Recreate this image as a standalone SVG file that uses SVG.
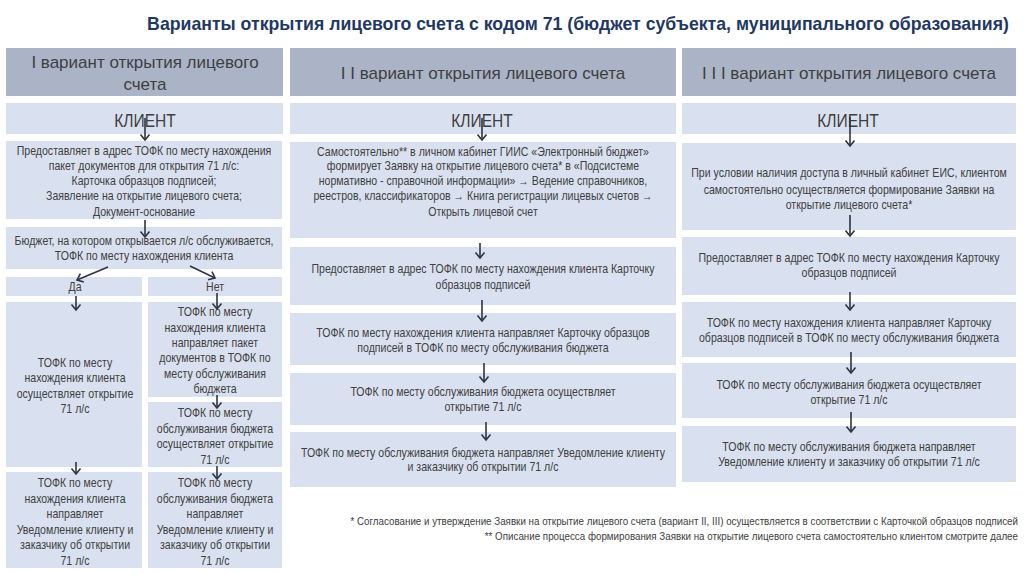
<svg xmlns="http://www.w3.org/2000/svg" width="1024" height="574" viewBox="0 0 1024 574">
<style>
.bg{fill:#ffffff}
.hd{fill:#aab4c6}
.lt{fill:#d9e1f0}
.title{font-family:"Liberation Sans",Arial,sans-serif;font-weight:bold;font-size:17.7px;fill:#1f3864;text-anchor:middle}
.ht{font-family:"Liberation Sans",Arial,sans-serif;font-size:17px;fill:#3f3f3f;text-anchor:middle}
.kl{font-family:"Liberation Sans",Arial,sans-serif;font-size:19px;fill:#3f3f3f;text-anchor:middle}
.t{font-family:"Liberation Sans",Arial,sans-serif;font-size:12px;fill:#404040;text-anchor:middle}
.fn{font-family:"Liberation Sans",Arial,sans-serif;font-size:11px;fill:#404040;text-anchor:end}
.ar{stroke:#2e3540;stroke-width:1.6;fill:none;marker-end:url(#ah)}
</style>
<defs>
<marker id="ah" markerUnits="userSpaceOnUse" markerWidth="14" markerHeight="14" viewBox="-7 -7 14 14" refX="0" refY="0" orient="auto" overflow="visible">
<path d="M-5.5,-4.5 L0,0 L-5.5,4.5" fill="none" stroke="#2e3540" stroke-width="1.6"/>
</marker>
</defs>
<rect class="bg" x="0" y="0" width="1024" height="574"/>
<text class="title" x="578" y="30">Варианты открытия лицевого счета с кодом 71 (бюджет субъекта, муниципального образования)</text>

<g id="header1"><rect class="hd" x="6" y="48" width="277" height="48"/>
<text class="ht"><tspan x="145" y="68">I вариант открытия лицевого</tspan><tspan x="145" y="90">счета</tspan></text></g>
<g id="header2"><rect class="hd" x="290" y="48" width="386" height="48"/>
<text class="ht" x="483" y="79">I I вариант открытия лицевого счета</text></g>
<g id="header3"><rect class="hd" x="682" y="48" width="334" height="48"/>
<text class="ht" x="849" y="79">I I I вариант открытия лицевого счета</text></g>

<g id="client1"><rect class="lt" x="6" y="103" width="277" height="31"/>
<text class="kl" transform="translate(145,0) scale(0.82,1)" x="0" y="127">КЛИЕНТ</text></g>
<g id="client2"><rect class="lt" x="290" y="103" width="386" height="31"/>
<text class="kl" transform="translate(482,0) scale(0.82,1)" x="0" y="127">КЛИЕНТ</text></g>
<g id="client3"><rect class="lt" x="682" y="103" width="334" height="31"/>
<text class="kl" transform="translate(848,0) scale(0.82,1)" x="0" y="127">КЛИЕНТ</text></g>

<!-- Variant I -->
<g id="v1-docs"><rect class="lt" x="6" y="141" width="276" height="78"/>
<text class="t" transform="translate(144,0) scale(0.88,1)"><tspan x="0" y="155">Предоставляет в адрес ТОФК по месту нахождения</tspan><tspan x="0" y="170">пакет документов для открытия 71 л/с:</tspan><tspan x="0" y="185">Карточка образцов подписей;</tspan><tspan x="0" y="200.5">Заявление на открытие лицевого счета;</tspan><tspan x="0" y="216">Документ-основание</tspan></text></g>
<g id="v1-budget"><rect class="lt" x="6" y="227" width="276" height="42"/>
<text class="t" transform="translate(144,0) scale(0.88,1)"><tspan x="0" y="245">Бюджет, на котором открывается л/с обслуживается,</tspan><tspan x="0" y="260">ТОФК по месту нахождения клиента</tspan></text></g>
<g id="v1-yes"><rect class="lt" x="6" y="277" width="136" height="19"/>
<text class="t" transform="translate(75,0) scale(0.88,1)" x="0" y="291.5">Да</text></g>
<g id="v1-no"><rect class="lt" x="148" y="277" width="134" height="19"/>
<text class="t" transform="translate(215,0) scale(0.88,1)" x="0" y="291.5">Нет</text></g>
<g id="v1-yes-open"><rect class="lt" x="6" y="302" width="136" height="165"/>
<text class="t" transform="translate(75,0) scale(0.88,1)"><tspan x="0" y="367.5">ТОФК по месту</tspan><tspan x="0" y="382.5">нахождения клиента</tspan><tspan x="0" y="398">осуществляет открытие</tspan><tspan x="0" y="413">71 л/с</tspan></text></g>
<g id="v1-no-send"><rect class="lt" x="148" y="302" width="134" height="95"/>
<text class="t" transform="translate(215,0) scale(0.88,1)"><tspan x="0" y="316">ТОФК по месту</tspan><tspan x="0" y="332">нахождения клиента</tspan><tspan x="0" y="347">направляет пакет</tspan><tspan x="0" y="362">документов в ТОФК по</tspan><tspan x="0" y="378">месту обслуживания</tspan><tspan x="0" y="393">бюджета</tspan></text></g>
<g id="v1-no-open"><rect class="lt" x="148" y="402" width="134" height="65"/>
<text class="t" transform="translate(215,0) scale(0.88,1)"><tspan x="0" y="417">ТОФК по месту</tspan><tspan x="0" y="433">обслуживания бюджета</tspan><tspan x="0" y="448">осуществляет открытие</tspan><tspan x="0" y="464">71 л/с</tspan></text></g>
<g id="v1-yes-notify"><rect class="lt" x="6" y="472" width="136" height="96"/>
<text class="t" transform="translate(75,0) scale(0.88,1)"><tspan x="0" y="487">ТОФК по месту</tspan><tspan x="0" y="503">нахождения клиента</tspan><tspan x="0" y="518">направляет</tspan><tspan x="0" y="534">Уведомление клиенту и</tspan><tspan x="0" y="549">заказчику об открытии</tspan><tspan x="0" y="565">71 л/с</tspan></text></g>
<g id="v1-no-notify"><rect class="lt" x="148" y="472" width="134" height="96"/>
<text class="t" transform="translate(215,0) scale(0.88,1)"><tspan x="0" y="487">ТОФК по месту</tspan><tspan x="0" y="503">обслуживания бюджета</tspan><tspan x="0" y="518">направляет</tspan><tspan x="0" y="534">Уведомление клиенту и</tspan><tspan x="0" y="549">заказчику об открытии</tspan><tspan x="0" y="565">71 л/с</tspan></text></g>

<!-- Variant II -->
<g id="v2-form"><rect class="lt" x="290" y="142" width="386" height="96"/>
<text class="t" transform="translate(483,0) scale(0.88,1)"><tspan x="0" y="156">Самостоятельно** в личном кабинет ГИИС «Электронный бюджет»</tspan><tspan x="0" y="170.5">формирует Заявку на открытие лицевого счета* в «Подсистеме</tspan><tspan x="0" y="185.5">нормативно - справочной информации» → Ведение справочников,</tspan><tspan x="0" y="200.5">реестров, классификаторов → Книга регистрации лицевых счетов →</tspan><tspan x="0" y="216">Открыть лицевой счет</tspan></text></g>
<g id="v2-card"><rect class="lt" x="290" y="247" width="386" height="58"/>
<text class="t" transform="translate(483,0) scale(0.88,1)"><tspan x="0" y="273.5">Предоставляет в адрес ТОФК по месту нахождения клиента Карточку</tspan><tspan x="0" y="289">образцов подписей</tspan></text></g>
<g id="v2-send"><rect class="lt" x="290" y="313" width="386" height="52"/>
<text class="t" transform="translate(483,0) scale(0.88,1)"><tspan x="0" y="337">ТОФК по месту нахождения клиента направляет Карточку образцов</tspan><tspan x="0" y="352">подписей в ТОФК по месту обслуживания бюджета</tspan></text></g>
<g id="v2-open"><rect class="lt" x="290" y="373" width="386" height="52"/>
<text class="t" transform="translate(483,0) scale(0.88,1)"><tspan x="0" y="396">ТОФК по месту обслуживания бюджета осуществляет</tspan><tspan x="0" y="411.5">открытие 71 л/с</tspan></text></g>
<g id="v2-notify"><rect class="lt" x="290" y="432" width="386" height="55"/>
<text class="t" transform="translate(483,0) scale(0.88,1)"><tspan x="0" y="457">ТОФК по месту обслуживания бюджета направляет Уведомление клиенту</tspan><tspan x="0" y="471">и заказчику об открытии 71 л/с</tspan></text></g>

<!-- Variant III -->
<g id="v3-form"><rect class="lt" x="682" y="143" width="334" height="87"/>
<text class="t" transform="translate(849,0) scale(0.88,1)"><tspan x="0" y="177.5">При условии наличия доступа в личный кабинет ЕИС, клиентом</tspan><tspan x="0" y="194">самостоятельно осуществляется формирование Заявки на</tspan><tspan x="0" y="209">открытие лицевого счета*</tspan></text></g>
<g id="v3-card"><rect class="lt" x="682" y="237" width="334" height="58"/>
<text class="t" transform="translate(849,0) scale(0.88,1)"><tspan x="0" y="262.5">Предоставляет в адрес ТОФК по месту нахождения Карточку</tspan><tspan x="0" y="277.5">образцов подписей</tspan></text></g>
<g id="v3-send"><rect class="lt" x="682" y="302" width="334" height="55"/>
<text class="t" transform="translate(849,0) scale(0.88,1)"><tspan x="0" y="327">ТОФК по месту нахождения клиента направляет Карточку</tspan><tspan x="0" y="342">образцов подписей в ТОФК по месту обслуживания бюджета</tspan></text></g>
<g id="v3-open"><rect class="lt" x="682" y="363" width="334" height="55"/>
<text class="t" transform="translate(849,0) scale(0.88,1)"><tspan x="0" y="389">ТОФК по месту обслуживания бюджета осуществляет</tspan><tspan x="0" y="404">открытие 71 л/с</tspan></text></g>
<g id="v3-notify"><rect class="lt" x="682" y="426" width="334" height="56"/>
<text class="t" transform="translate(849,0) scale(0.88,1)"><tspan x="0" y="451">ТОФК по месту обслуживания бюджета направляет</tspan><tspan x="0" y="466">Уведомление клиенту и заказчику об открытии 71 л/с</tspan></text></g>

<g id="connectors">
<line class="ar" x1="145" y1="118" x2="145" y2="140"/>
<line class="ar" x1="145" y1="220" x2="145" y2="237"/>
<line class="ar" x1="108" y1="267" x2="77" y2="280"/>
<line class="ar" x1="190" y1="266" x2="215" y2="278"/>
<line class="ar" x1="76" y1="296" x2="76" y2="310"/>
<line class="ar" x1="217" y1="293" x2="217" y2="309"/>
<line class="ar" x1="217" y1="395" x2="217" y2="408"/>
<line class="ar" x1="217" y1="466" x2="217" y2="479"/>
<line class="ar" x1="76" y1="462" x2="76" y2="474"/>
<line class="ar" x1="482" y1="118" x2="482" y2="140"/>
<line class="ar" x1="480" y1="243" x2="480" y2="258"/>
<line class="ar" x1="482" y1="300" x2="482" y2="321"/>
<line class="ar" x1="484" y1="363" x2="484" y2="382"/>
<line class="ar" x1="486" y1="422" x2="486" y2="440"/>
<line class="ar" x1="850" y1="117" x2="850" y2="146"/>
<line class="ar" x1="850" y1="215" x2="850" y2="236"/>
<line class="ar" x1="850" y1="292" x2="850" y2="310"/>
<line class="ar" x1="851" y1="352" x2="851" y2="373"/>
<line class="ar" x1="851" y1="412" x2="851" y2="432"/>
</g>

<text class="fn" transform="translate(1018,0) scale(0.89,1)"><tspan x="0" y="525">* Согласование и утверждение Заявки на открытие лицевого счета (вариант II, III) осуществляется в соответствии с Карточкой образцов подписей</tspan><tspan x="0" y="540">** Описание процесса формирования Заявки на открытие лицевого счета самостоятельно клиентом смотрите далее</tspan></text>
</svg>
